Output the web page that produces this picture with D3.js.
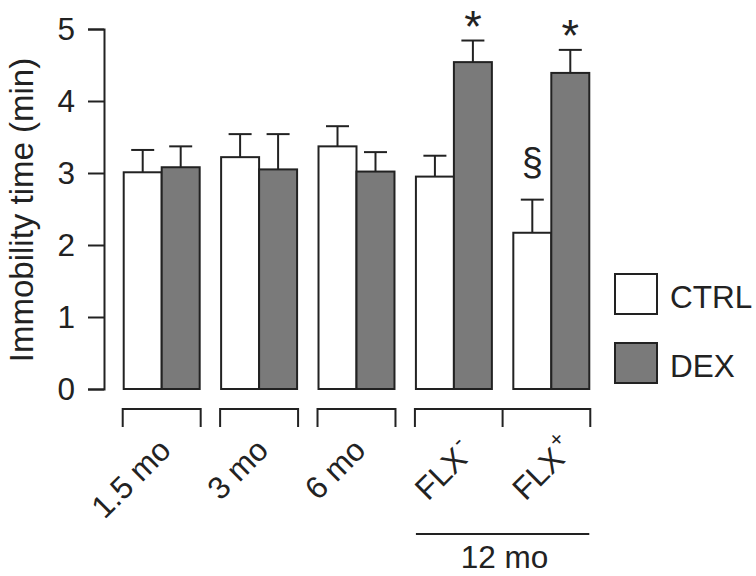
<head>
  <title>Immobility time</title>
  <script src="https://d3js.org/d3.v7.min.js"></script>
  <style>
    body { margin: 0; background: #fff; }
    text { font-family: 'Liberation Sans', Arial, sans-serif; fill: #222; }
  </style>
</head>

<body>
  <svg id='canvas' width='756' height='576'></svg>
</body>

<script>
  // data
  groups = ['1.5 mo', '3 mo', '6 mo', 'FLX-', 'FLX+'];
  series = ['CTRL', 'DEX'];
  ctrlMean = [3.01, 3.22, 3.37, 2.95, 2.17];
  ctrlErr = [0.31, 0.32, 0.28, 0.29, 0.46];
  dexMean = [3.08, 3.05, 3.02, 4.54, 4.39];
  dexErr = [0.29, 0.49, 0.27, 0.30, 0.32];
  yTicks = [0, 1, 2, 3, 4, 5];
  // significance marks: [group, series, symbol]
  marks = [[4, 'CTRL', '§'], [3, 'DEX', '*'], [4, 'DEX', '*']];

  ink = '#222';
  dexFill = '#7a7a7a';
  fs = 31.5;

  svg = d3.select('#canvas');

  x = d3.scaleBand().domain(groups).range([113, 600])
    .paddingInner(0.22).paddingOuter(0.11);
  xs = d3.scaleBand().domain(series).range([0, x.bandwidth()]);
  y = d3.scaleLinear().domain([0, 5]).range([389, 29]);

  rows = [];
  groups.forEach(function(g, i) {
    rows.push({ g: g, i: i, s: 'CTRL', v: ctrlMean[i], e: ctrlErr[i] });
    rows.push({ g: g, i: i, s: 'DEX', v: dexMean[i], e: dexErr[i] });
  });

  function cx(d) { return x(d.g) + xs(d.s) + xs.bandwidth() / 2; }

  // y axis
  yAxis = svg.append('g')
    .attr('transform', 'translate(104,0)')
    .call(d3.axisLeft(y).tickValues(yTicks).tickSize(16).tickPadding(13).tickFormat(d3.format('d')));
  yAxis.selectAll('path, line').attr('stroke', ink).attr('stroke-width', 2);
  yAxis.selectAll('text')
    .attr('font-size', fs)
    .attr('font-family', "'Liberation Sans', Arial, sans-serif")
    .attr('fill', ink);

  svg.append('text')
    .attr('transform', 'translate(33,' + ((y(5) + y(0)) / 2 + 1) + ') rotate(-90)')
    .attr('text-anchor', 'middle')
    .attr('font-size', 33)
    .text('Immobility time (min)');

  // error bars (drawn under bars)
  eb = svg.selectAll('.err')
    .data(rows)
    .enter()
    .append('g')
    .attr('class', 'err')
    .attr('stroke', ink)
    .attr('stroke-width', 2);
  eb.append('line')
    .attr('x1', cx)
    .attr('x2', cx)
    .attr('y1', function(d) { return y(d.v); })
    .attr('y2', function(d) { return y(d.v + d.e); });
  eb.append('line')
    .attr('x1', function(d) { return cx(d) - 11.5; })
    .attr('x2', function(d) { return cx(d) + 11.5; })
    .attr('y1', function(d) { return y(d.v + d.e); })
    .attr('y2', function(d) { return y(d.v + d.e); });

  // bars
  svg.selectAll('.bar')
    .data(rows)
    .enter()
    .append('rect')
    .attr('class', 'bar')
    .attr('x', function(d) { return x(d.g) + xs(d.s); })
    .attr('y', function(d) { return y(d.v); })
    .attr('width', xs.bandwidth())
    .attr('height', function(d) { return y(0) - y(d.v); })
    .attr('fill', function(d) { return d.s == 'DEX' ? dexFill : '#fff'; })
    .attr('stroke', ink)
    .attr('stroke-width', 2);

  // significance marks
  svg.selectAll('.sig')
    .data(marks)
    .enter()
    .append('text')
    .attr('class', 'sig')
    .attr('text-anchor', 'middle')
    .attr('x', function(m) { return cx(rows[m[0] * 2 + (m[1] == 'DEX' ? 1 : 0)]); })
    .attr('y', function(m) {
      var r = rows[m[0] * 2 + (m[1] == 'DEX' ? 1 : 0)];
      return y(r.v + r.e) - (m[2] == '*' ? -1 : 25);
    })
    .attr('font-size', function(m) { return m[2] == '*' ? 45 : 38; })
    .text(function(m) { return m[2]; });

  // brackets under the groups
  bTop = 409;
  bBot = 427;
  spans = [[0, 0], [1, 1], [2, 2], [3, 4]];
  spans.forEach(function(sp) {
    var x0 = x(groups[sp[0]]) - 1;
    var x1 = x(groups[sp[1]]) + x.bandwidth() + 1;
    var p = 'M' + x0 + ',' + bBot + 'V' + bTop + 'H' + x1 + 'V' + bBot;
    if (sp[1] > sp[0]) {
      var xm = (x(groups[sp[0]]) + x.bandwidth() + x(groups[sp[1]])) / 2;
      p += 'M' + xm + ',' + bTop + 'V' + bBot;
    }
    svg.append('path')
      .attr('d', p)
      .attr('fill', 'none')
      .attr('stroke', ink)
      .attr('stroke-width', 2);
  });

  // rotated group labels
  labels = svg.selectAll('.lab')
    .data(groups)
    .enter()
    .append('g')
    .attr('class', 'lab')
    .attr('transform', function(g, i) {
      var dx = g.indexOf('FLX') == 0 ? 15 : 11;
      return 'translate(' + (x(g) + x.bandwidth() / 2 + dx) + ',' + (g.indexOf('FLX') == 0 ? 461 : 452) + ') rotate(-45)';
    });
  labels.append('text')
    .attr('text-anchor', 'end')
    .attr('font-size', fs)
    .text(function(g) { return g.indexOf('FLX') == 0 ? 'FLX' : g; });
  labels.filter(function(g) { return g.indexOf('FLX') == 0; })
    .append('text')
    .attr('x', 2)
    .attr('y', -15)
    .attr('font-size', 22)
    .text(function(g) { return g.slice(3); });

  // 12 mo line
  x12a = x(groups[3]);
  x12b = x(groups[4]) + x.bandwidth();
  svg.append('line')
    .attr('x1', x12a).attr('x2', x12b)
    .attr('y1', 534).attr('y2', 534)
    .attr('stroke', ink)
    .attr('stroke-width', 2);
  svg.append('text')
    .attr('x', (x12a + x12b) / 2 + 2)
    .attr('y', 568)
    .attr('text-anchor', 'middle')
    .attr('font-size', fs)
    .text('12 mo');

  // legend
  legend = svg.selectAll('.leg')
    .data(series)
    .enter()
    .append('g')
    .attr('class', 'leg')
    .attr('transform', function(s, i) { return 'translate(615,' + (274 + i * 69) + ')'; });
  legend.append('rect')
    .attr('width', 42)
    .attr('height', 40)
    .attr('fill', function(s) { return s == 'DEX' ? dexFill : '#fff'; })
    .attr('stroke', ink)
    .attr('stroke-width', 2);
  legend.append('text')
    .attr('x', 55)
    .attr('y', 34)
    .attr('font-size', fs)
    .text(function(s) { return s; });
</script>
